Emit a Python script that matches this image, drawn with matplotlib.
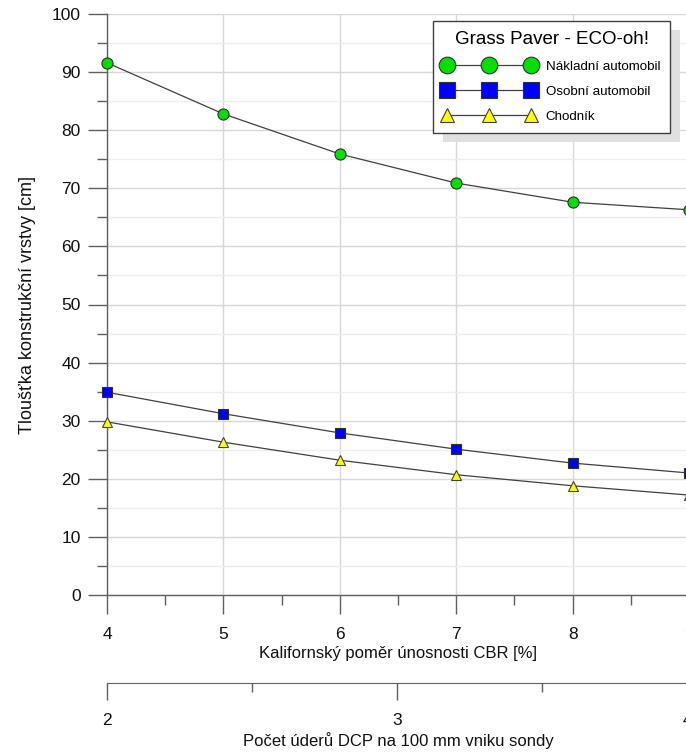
import matplotlib
matplotlib.use("Agg")
import matplotlib.pyplot as plt
from matplotlib.ticker import MultipleLocator
from matplotlib.patches import Rectangle

plt.rcParams['font.family'] = ['Liberation Sans', 'DejaVu Sans']

cbr = [4, 5, 6, 7, 8, 9]
nakladni = [91.6, 82.8, 75.9, 70.9, 67.6, 66.3]
osobni = [34.9, 31.2, 27.9, 25.1, 22.7, 21.0]
chodnik = [29.8, 26.3, 23.2, 20.7, 18.8, 17.2]
series_labels = ["Nákladní automobil", "Osobní automobil", "Chodník"]
legend_title = "Grass Paver - ECO-oh!"
xlabel = "Kalifornský poměr únosnosti CBR [%]"
ylabel = "Tloušťka konstrukční vrstvy [cm]"
x2label = "Počet úderů DCP na 100 mm vniku sondy"
dcp_ticks = [2, 3, 4]

W, H = 686, 753
fig = plt.figure(figsize=(W/100, H/100), dpi=100)

left = 107 / W
right = 689 / W
top = 1 - 14 / H
bottom = 1 - 595 / H
ax = fig.add_axes([left, bottom, right - left, top - bottom])

spine_c = '#606060'
line_c = '#404040'

ax.plot(cbr, nakladni, color=line_c, lw=0.9, marker='o', ms=8, mfc='#00e000',
        mec='#303030', mew=0.8, label=series_labels[0], zorder=3, clip_on=False)
ax.plot(cbr, osobni, color=line_c, lw=0.9, marker='s', ms=7.8, mfc='#0000ff',
        mec='#303030', mew=0.8, label=series_labels[1], zorder=3, clip_on=False)
ax.plot(cbr, chodnik, color=line_c, lw=0.9, marker='^', ms=7, mfc='#ffff00',
        mec='#404040', mew=0.8, label=series_labels[2], zorder=3, clip_on=False)

ax.set_xlim(4, 9)
ax.set_ylim(0, 100)
ax.xaxis.set_major_locator(MultipleLocator(1))
ax.xaxis.set_minor_locator(MultipleLocator(0.5))
ax.yaxis.set_major_locator(MultipleLocator(10))
ax.yaxis.set_minor_locator(MultipleLocator(5))

ax.grid(True, which='major', axis='both', color='#d8d8d8', lw=1.0, zorder=0)
ax.grid(True, which='minor', axis='y', color='#eeeeee', lw=1.0, zorder=0)
ax.set_axisbelow(True)

for s in ['top', 'right']:
    ax.spines[s].set_visible(False)
for s in ['left', 'bottom']:
    ax.spines[s].set_color(spine_c)
    ax.spines[s].set_linewidth(1.0)

ax.tick_params(axis='both', which='major', direction='out', length=14, width=1,
               color=spine_c, labelsize=12.5, labelcolor='#111111')
ax.tick_params(axis='both', which='minor', direction='out', length=7, width=1,
               color=spine_c)
ax.tick_params(axis='x', which='major', pad=9)
ax.tick_params(axis='y', which='major', pad=5)

ax.set_xlabel(xlabel, fontsize=12, labelpad=3, color='#111111')
ax.set_ylabel(ylabel, fontsize=13, labelpad=11, color='#111111')

# secondary DCP axis
y2 = 1 - 683 / H
ax2 = fig.add_axes([left, y2, right - left, 0.0001])
ax2.set_facecolor('none')
for s in ['top', 'right', 'left']:
    ax2.spines[s].set_visible(False)
ax2.spines['bottom'].set_color(spine_c)
ax2.set_xlim(2, 2 + (689 - 107) / 290)
ax2.set_xticks(dcp_ticks)
ax2.set_xticklabels([str(t) for t in dcp_ticks])
ax2.xaxis.set_minor_locator(MultipleLocator(0.5))
ax2.set_yticks([])
ax2.tick_params(axis='x', which='major', direction='out', length=12.5, width=1,
                color=spine_c, labelsize=12.5, pad=9, labelcolor='#111111')
ax2.tick_params(axis='x', which='minor', direction='out', length=6.5, width=1,
                color=spine_c)
ax2.set_xlabel(x2label, fontsize=12, labelpad=3, color='#111111')

leg = ax.legend(loc='upper left', bbox_to_anchor=(433 / W, 1 - 21 / H),
                bbox_transform=fig.transFigure, title=legend_title,
                title_fontsize=13.5, fontsize=9.6, numpoints=3, handlelength=6.9,
                handletextpad=0.8, markerscale=1.5, frameon=True, fancybox=False,
                edgecolor='#404040', framealpha=1, borderpad=0.75, labelspacing=0.95,
                borderaxespad=0)
leg.get_frame().set_linewidth(1.0)
leg.set_zorder(10)

fig.canvas.draw()
bb = leg.get_window_extent()
dx, dy = 10, -9
shadow = Rectangle((bb.x0 + dx, bb.y0 + dy), bb.width, bb.height, transform=None,
                   facecolor='#e0e0e0', edgecolor='none', zorder=9, clip_on=False)
ax.add_artist(shadow)

fig.savefig('out.png', dpi=100)
